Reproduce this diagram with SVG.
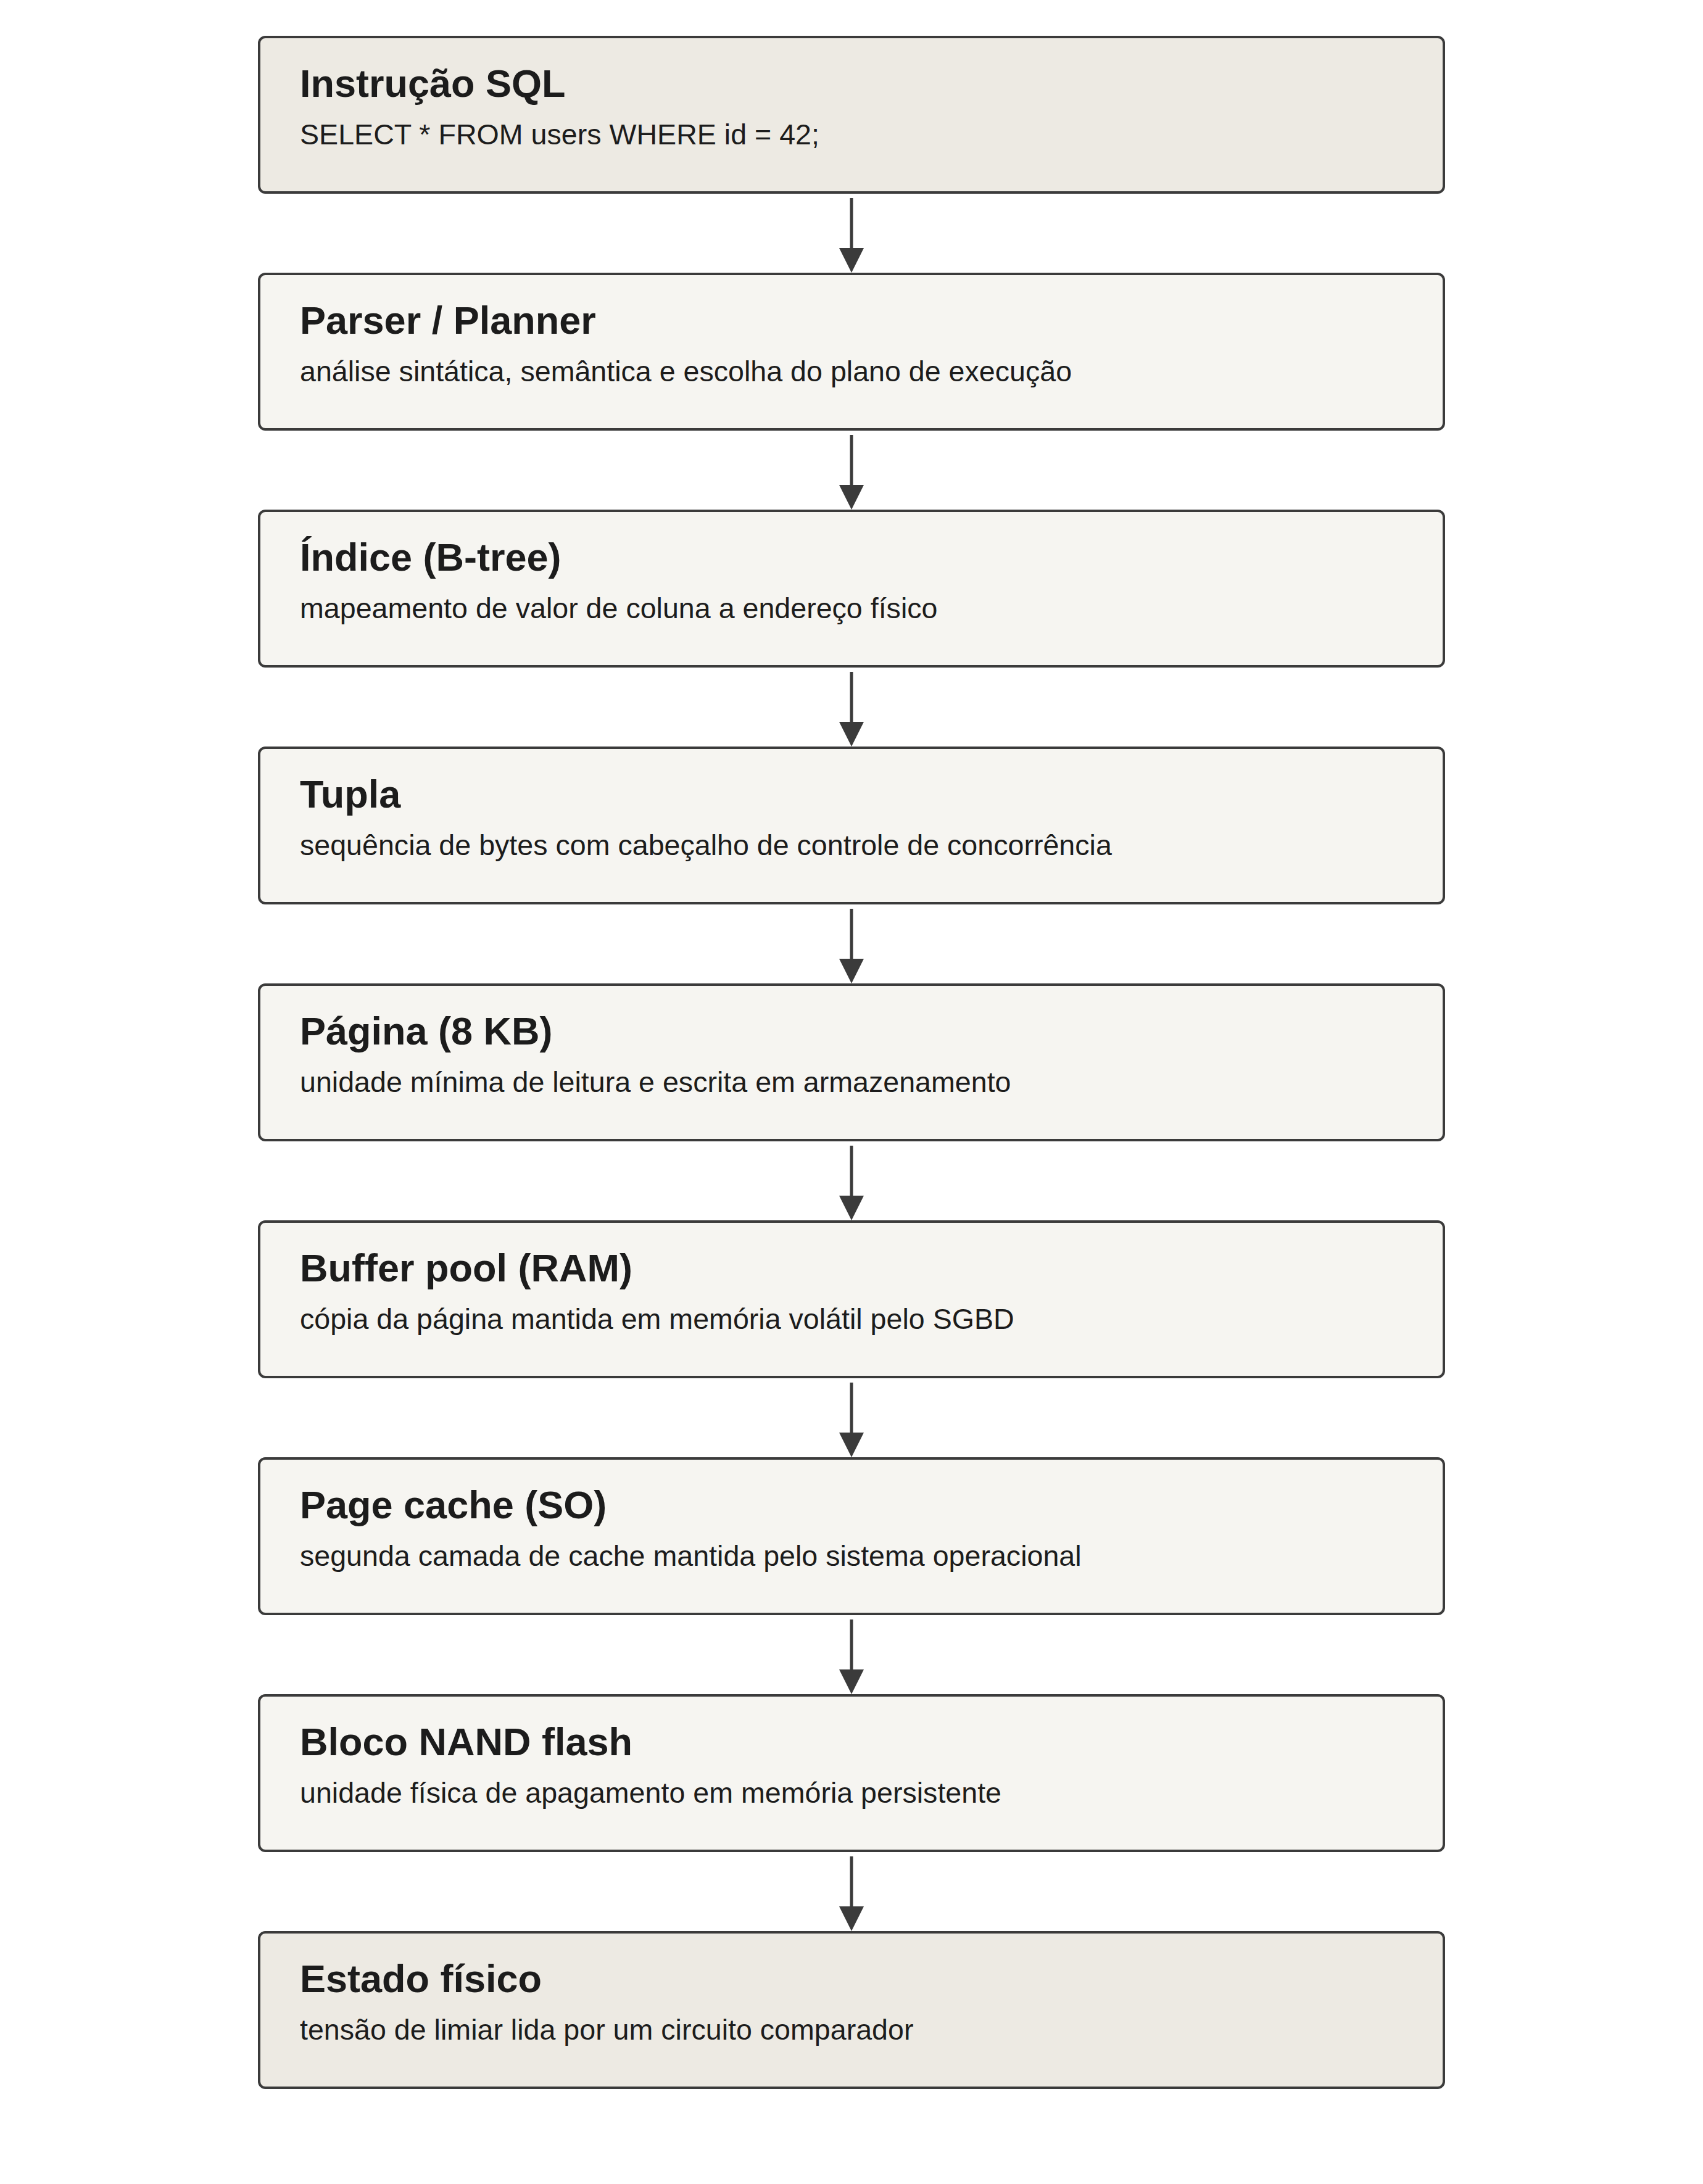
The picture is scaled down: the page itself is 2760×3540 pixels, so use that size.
<svg xmlns="http://www.w3.org/2000/svg" width="2760" height="3540" viewBox="0 0 2760 3540">
<style>
.box{stroke:#3b3b3b;stroke-width:4;fill:#f6f5f1}
.end{fill:#edeae3}
.t{font-family:"Liberation Sans",Arial,sans-serif;font-weight:bold;font-size:63px;fill:#1c1c1c}
.s{font-family:"Liberation Sans",Arial,sans-serif;font-size:46.6px;fill:#1c1c1c}
.c{stroke:#3b3b3b;stroke-width:5;fill:none}
</style>
<defs>
<marker id="ah" markerUnits="userSpaceOnUse" markerWidth="40" markerHeight="40" refX="0" refY="20" orient="auto" viewBox="0 0 40 40">
<path d="M0,0 L40,20 L0,40 z" fill="#3b3b3b"/>
</marker>
</defs>
<rect width="2760" height="3540" fill="#ffffff"/>
<g id="connectors">
<line class="c" x1="1380" y1="321" x2="1380" y2="402" marker-end="url(#ah)"/>
<line class="c" x1="1380" y1="705" x2="1380" y2="786" marker-end="url(#ah)"/>
<line class="c" x1="1380" y1="1089" x2="1380" y2="1170" marker-end="url(#ah)"/>
<line class="c" x1="1380" y1="1473" x2="1380" y2="1554" marker-end="url(#ah)"/>
<line class="c" x1="1380" y1="1857" x2="1380" y2="1938" marker-end="url(#ah)"/>
<line class="c" x1="1380" y1="2241" x2="1380" y2="2322" marker-end="url(#ah)"/>
<line class="c" x1="1380" y1="2625" x2="1380" y2="2706" marker-end="url(#ah)"/>
<line class="c" x1="1380" y1="3009" x2="1380" y2="3090" marker-end="url(#ah)"/>
</g>
<g id="n1">
<rect class="box end" x="420" y="60" width="1920" height="252" rx="10"/>
<text class="t" x="486" y="157">Instrução SQL</text>
<text class="s" x="486" y="234">SELECT * FROM users WHERE id = 42;</text>
</g>
<g id="n2">
<rect class="box" x="420" y="444" width="1920" height="252" rx="10"/>
<text class="t" x="486" y="541">Parser / Planner</text>
<text class="s" x="486" y="618">análise sintática, semântica e escolha do plano de execução</text>
</g>
<g id="n3">
<rect class="box" x="420" y="828" width="1920" height="252" rx="10"/>
<text class="t" x="486" y="925">Índice (B-tree)</text>
<text class="s" x="486" y="1002">mapeamento de valor de coluna a endereço físico</text>
</g>
<g id="n4">
<rect class="box" x="420" y="1212" width="1920" height="252" rx="10"/>
<text class="t" x="486" y="1309">Tupla</text>
<text class="s" x="486" y="1386">sequência de bytes com cabeçalho de controle de concorrência</text>
</g>
<g id="n5">
<rect class="box" x="420" y="1596" width="1920" height="252" rx="10"/>
<text class="t" x="486" y="1693">Página (8 KB)</text>
<text class="s" x="486" y="1770">unidade mínima de leitura e escrita em armazenamento</text>
</g>
<g id="n6">
<rect class="box" x="420" y="1980" width="1920" height="252" rx="10"/>
<text class="t" x="486" y="2077">Buffer pool (RAM)</text>
<text class="s" x="486" y="2154">cópia da página mantida em memória volátil pelo SGBD</text>
</g>
<g id="n7">
<rect class="box" x="420" y="2364" width="1920" height="252" rx="10"/>
<text class="t" x="486" y="2461">Page cache (SO)</text>
<text class="s" x="486" y="2538">segunda camada de cache mantida pelo sistema operacional</text>
</g>
<g id="n8">
<rect class="box" x="420" y="2748" width="1920" height="252" rx="10"/>
<text class="t" x="486" y="2845">Bloco NAND flash</text>
<text class="s" x="486" y="2922">unidade física de apagamento em memória persistente</text>
</g>
<g id="n9">
<rect class="box end" x="420" y="3132" width="1920" height="252" rx="10"/>
<text class="t" x="486" y="3229">Estado físico</text>
<text class="s" x="486" y="3306">tensão de limiar lida por um circuito comparador</text>
</g>
</svg>
